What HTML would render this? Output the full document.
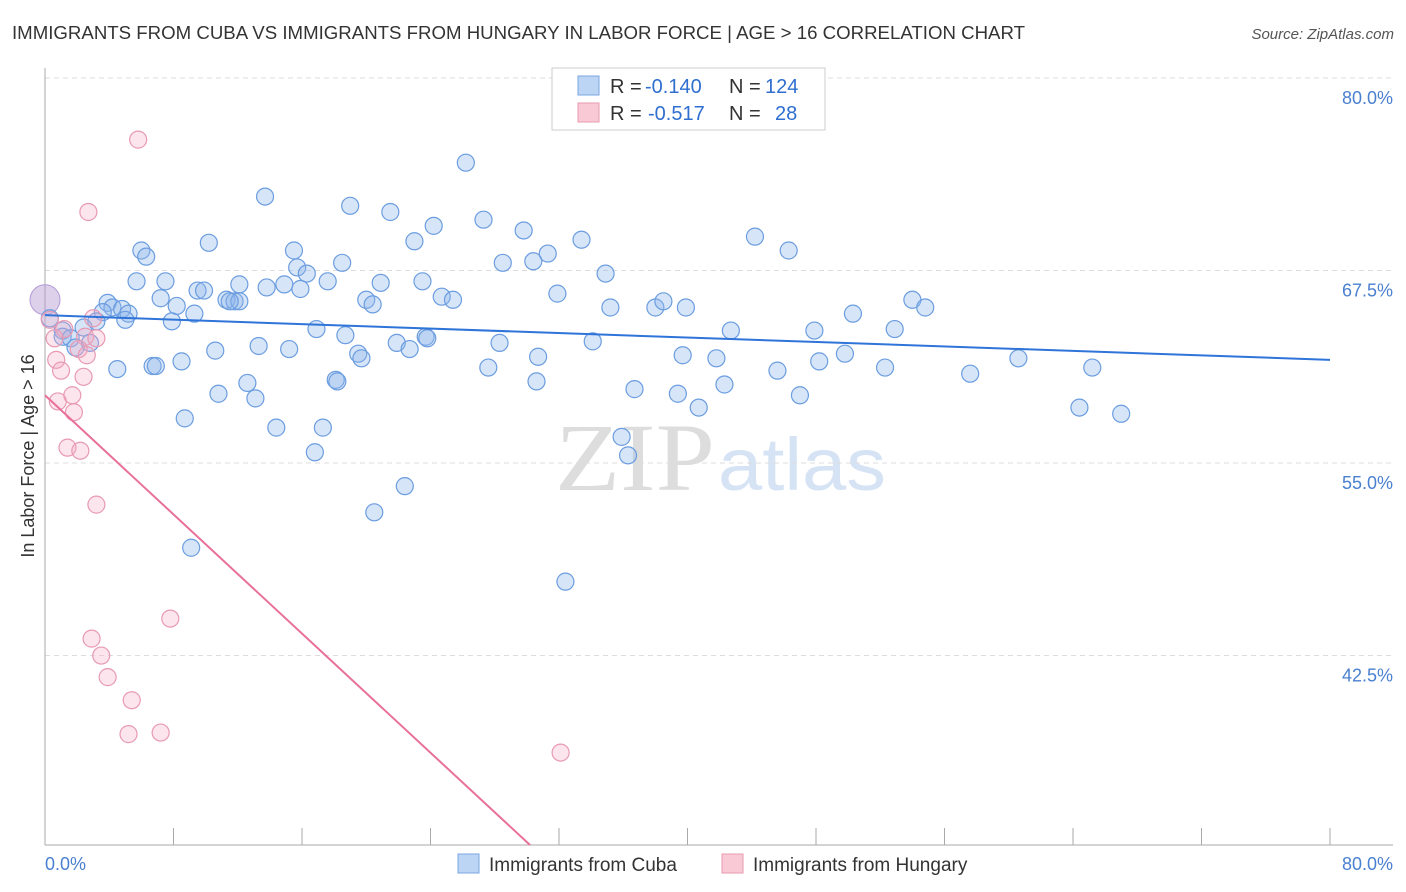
<!DOCTYPE html>
<html><head><meta charset="utf-8">
<style>
body{margin:0;background:#fff;font-family:"Liberation Sans",sans-serif;}
#wrap{position:relative;width:1406px;height:892px;overflow:hidden;}
</style></head>
<body>
<div id="wrap">
<svg id="svg" width="1406" height="892" xmlns="http://www.w3.org/2000/svg">
<text x="12" y="39" font-size="18" fill="#333" textLength="1013" lengthAdjust="spacingAndGlyphs">IMMIGRANTS FROM CUBA VS IMMIGRANTS FROM HUNGARY IN LABOR FORCE | AGE &gt; 16 CORRELATION CHART</text>
<text x="1394" y="39" font-size="15" fill="#555" text-anchor="end" font-style="italic">Source: ZipAtlas.com</text>
<text x="555" y="490" font-size="96" fill="#ddd" textLength="160" lengthAdjust="spacingAndGlyphs" font-family="Liberation Serif,serif">ZIP</text>
<text x="718" y="490" font-size="74" fill="#d5e3f5" textLength="168" lengthAdjust="spacingAndGlyphs">atlas</text>
<g id="grid"></g>
<g id="axes"></g>
<g id="pts"></g>
<g id="lines"></g>
<text transform="translate(34,456) rotate(-90)" font-size="18" fill="#333" text-anchor="middle">In Labor Force | Age &gt; 16</text>
<text x="45" y="870" font-size="18" fill="#4a80d0">0.0%</text>
<text x="1393" y="870" font-size="18" fill="#4a80d0" text-anchor="end">80.0%</text>
<g>
<rect x="552" y="68" width="273" height="62" fill="#fff" stroke="#ccc"/>
<rect x="578" y="76" width="21" height="19" fill="#bcd5f5" stroke="#7aa6e0"/>
<rect x="578" y="103" width="21" height="19" fill="#f9c9d6" stroke="#e99ab2"/>
<text x="610" y="93" font-size="20" fill="#333">R =</text>
<text x="645" y="93" font-size="20" fill="#2f6fd0">-0.140</text>
<text x="729" y="93" font-size="20" fill="#333">N =</text>
<text x="765" y="93" font-size="20" fill="#2f6fd0">124</text>
<text x="610" y="120" font-size="20" fill="#333">R =</text>
<text x="648" y="120" font-size="20" fill="#2f6fd0">-0.517</text>
<text x="729" y="120" font-size="20" fill="#333">N =</text>
<text x="775" y="120" font-size="20" fill="#2f6fd0">28</text>
</g>
<g>
<rect x="458" y="854" width="21" height="19" fill="#bcd5f5" stroke="#7aa6e0"/>
<text x="489" y="871" font-size="19" fill="#333">Immigrants from Cuba</text>
<rect x="722" y="854" width="21" height="19" fill="#f9c9d6" stroke="#e99ab2"/>
<text x="753" y="871" font-size="19" fill="#333">Immigrants from Hungary</text>
</g>
</svg>
</div>
<script>
const yTicks=[80,67.5,55,42.5];
const yTickLabels=["80.0%","67.5%","55.0%","42.5%"];
const xTicks=[0,8,16,24,32,40,48,56,64,72,80];
const cubaX=[13.7,26.2,19.0,21.5,24.2,27.3,29.8,23.0,31.3,33.4,28.5,30.4,44.2,46.3,10.2,6.0,6.3,15.5,15.7,16.3,18.5,17.6,20.9,23.5,34.9,5.7,7.5,9.5,9.9,12.1,13.8,14.9,15.9,7.2,8.2,9.3,11.3,11.8,12.1,11.5,20.0,20.4,24.7,25.4,31.9,35.2,38.0,38.5,39.9,50.3,54.0,54.8,3.9,4.2,4.8,5.2,5.0,3.6,3.2,7.9,16.9,18.7,23.7,23.8,21.9,22.7,13.3,15.2,10.6,28.3,34.1,42.7,47.9,52.9,60.6,65.2,0.3,1.1,2.4,1.1,1.6,1.9,2.8,4.5,6.7,6.9,8.5,19.5,19.7,30.7,39.7,41.8,48.2,49.8,52.3,27.6,30.6,18.1,18.2,12.6,10.8,13.1,36.7,39.4,42.3,45.6,47.0,57.6,40.7,64.4,67.0,8.7,14.4,17.3,16.8,35.9,36.3,22.4,20.5,9.1,32.4];
const cubaY=[72.3,74.5,71.7,71.3,70.4,70.8,70.1,69.4,68.6,69.5,68.0,68.1,69.7,68.8,69.3,68.8,68.4,68.8,67.7,67.3,68.0,66.8,66.7,66.8,67.3,66.8,66.8,66.2,66.2,66.6,66.4,66.6,66.3,65.7,65.2,64.7,65.6,65.5,65.5,65.5,65.6,65.3,65.8,65.6,66.0,65.1,65.1,65.5,65.1,64.7,65.6,65.1,65.4,65.1,65.0,64.7,64.3,64.8,64.2,64.2,63.7,63.3,63.2,63.1,62.8,62.4,62.6,62.4,62.3,62.8,62.9,63.6,63.6,63.7,61.8,61.2,64.4,63.6,63.8,63.2,63.1,62.5,62.8,61.1,61.3,61.3,61.6,62.1,61.8,61.9,62.0,61.8,61.6,62.1,61.2,61.2,60.3,60.4,60.3,60.2,59.5,59.2,59.8,59.5,60.1,61.0,59.4,60.8,58.6,58.6,58.2,57.9,57.3,57.3,55.7,56.7,55.5,53.5,51.8,49.5,47.3];
const hungX=[5.8,2.7,0.3,1.2,3.0,0.6,2.5,3.2,2.1,2.6,0.7,1.0,2.4,0.8,1.7,1.8,1.4,2.2,3.2,7.8,2.9,3.5,3.9,5.4,5.2,7.2,32.1];
const hungY=[76.0,71.3,64.3,63.7,64.4,63.1,63.2,63.1,62.4,62.0,61.7,61.0,60.6,59.0,59.4,58.3,56.0,55.8,52.3,44.9,43.6,42.5,41.1,39.6,37.4,37.5,36.2];
const bigPoint=[0,65.6];
const cubaTrend=[64.6,61.7];
const hungTrend=[59.4,-0.967];

const X0=45,X1=1330,Y0=845,Ytop=78,YMIN=30.2,YMAX=80;
const sx=v=>X0+(v/80)*(X1-X0);
const sy=v=>Y0-(v-YMIN)/(YMAX-YMIN)*(Y0-Ytop);
const NS="http://www.w3.org/2000/svg";
function mk(tag,attrs,parent){const e=document.createElementNS(NS,tag);for(const k in attrs)e.setAttribute(k,attrs[k]);parent.appendChild(e);return e;}
const grid=document.getElementById('grid'),axes=document.getElementById('axes'),pts=document.getElementById('pts'),lines=document.getElementById('lines');
yTicks.forEach((t,i)=>{
 const l=mk('line',{x1:X0,x2:1393,y1:sy(t),y2:sy(t),stroke:'#ddd','stroke-dasharray':'5,4'},grid);
 
 
 const tx=mk('text',{x:1393,y:sy(t)+26,'font-size':18,fill:'#4a80d0','text-anchor':'end'},grid);
 tx.textContent=yTickLabels[i];
 
 
});
const ya=mk('line',{x1:X0,x2:X0,y1:68,y2:Y0,stroke:'#aaa'},axes);


const xa=mk('line',{x1:X0,x2:1393,y1:Y0,y2:Y0,stroke:'#aaa'},axes);


xTicks.forEach(t=>{
 const k=mk('line',{x1:sx(t),x2:sx(t),y1:Y0-17,y2:Y0,stroke:'#aaa'},axes);
 
 
});
const bp=mk('circle',{cx:sx(bigPoint[0]),cy:sy(bigPoint[1]),r:15,fill:'rgba(180,150,210,0.45)',stroke:'#b29ad6'},pts);


cubaX.forEach((x,i)=>{
 const c=mk('circle',{cx:sx(x),cy:sy(cubaY[i]),r:8.5,fill:'rgba(140,180,235,0.35)',stroke:'#6b9de0','stroke-width':1.2},pts);
 
 
});
hungX.forEach((x,i)=>{
 const c=mk('circle',{cx:sx(x),cy:sy(hungY[i]),r:8.5,fill:'rgba(245,170,195,0.3)',stroke:'#e89ab2','stroke-width':1.2},pts);
 
 
});
const bl=mk('line',{x1:sx(0),y1:sy(cubaTrend[0]),x2:sx(80),y2:sy(cubaTrend[1]),stroke:'#2f74d8','stroke-width':2},lines);


const xEnd=(YMIN-hungTrend[0])/hungTrend[1];
const pl=mk('line',{x1:sx(0),y1:sy(hungTrend[0]),x2:sx(xEnd),y2:sy(YMIN),stroke:'#e8709a','stroke-width':2},lines);


</script>
</body></html>
